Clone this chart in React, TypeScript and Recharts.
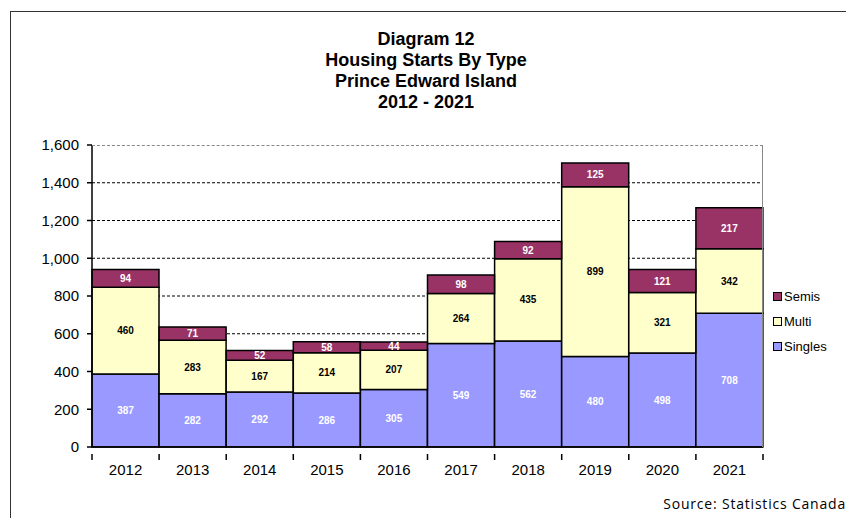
import React from 'react';
import { BarChart, Bar, XAxis, YAxis, CartesianGrid, LabelList } from 'recharts';

const years = ['2012', '2013', '2014', '2015', '2016', '2017', '2018', '2019', '2020', '2021'];
const singles = [387, 282, 292, 286, 305, 549, 562, 480, 498, 708];
const multi = [460, 283, 167, 214, 207, 264, 435, 899, 321, 342];
const semis = [94, 71, 52, 58, 44, 98, 92, 125, 121, 217];
const yTicks = [0, 200, 400, 600, 800, 1000, 1200, 1400, 1600];
const gridValues = [200, 400, 600, 800, 1000, 1200, 1400];
const titleLines = ['Diagram 12', 'Housing Starts By Type', 'Prince Edward Island', '2012 - 2021'];
const legendOrder = ['Semis', 'Multi', 'Singles'] as const;

const data = years.map((y, i) => ({ year: y, Singles: singles[i], Multi: multi[i], Semis: semis[i] }));

const COLORS = { Singles: '#9999FF', Multi: '#FFFFCC', Semis: '#993366' };
const FONT = '"Liberation Sans", Arial, sans-serif';
const W = 846;
const H = 518;
const PLOT_LEFT = 92;
const PLOT_TOP = 145;
const PLOT_RIGHT = 763;
const PLOT_BOTTOM = 447;
const BAND = (PLOT_RIGHT - PLOT_LEFT) / years.length;
const Y_MAX = yTicks[yTicks.length - 1];

const XTick = (props: any) => {
  const { x, y, payload, index } = props;
  const left = x - BAND / 2;
  const isLast = index === years.length - 1;
  return (
    <g>
      <line x1={left} x2={left} y1={y - 1} y2={y + 5} stroke="#000" strokeWidth={1.5} />
      {isLast && <line x1={x + BAND / 2} x2={x + BAND / 2} y1={y - 1} y2={y + 5} stroke="#000" strokeWidth={1.5} />}
      <text x={x} y={y + 20} textAnchor="middle" fontSize={15} fontFamily={FONT} fill="#000">
        {payload.value}
      </text>
    </g>
  );
};

const gridGen = (args: any) => {
  const { yAxis, offset } = args || {};
  const sc = yAxis && yAxis.scale;
  return gridValues.map((v) => {
    if (typeof sc === 'function') return sc(v);
    if (sc && typeof sc.map === 'function') return sc.map(v);
    return offset.top + offset.height * (1 - v / Y_MAX);
  });
};

export default function App() {
  return (
    <div style={{ position: 'absolute', left: 0, top: 0, width: W, height: H, background: '#fff', overflow: 'hidden' }}>
      <div style={{ position: 'absolute', left: 10, top: 11, width: W, height: H, borderLeft: '1px solid #333', borderTop: '1px solid #333' }} />
      <div
        style={{
          position: 'absolute',
          left: 0,
          top: 29,
          width: 852,
          textAlign: 'center',
          fontFamily: FONT,
          fontWeight: 'bold',
          fontSize: 18,
          lineHeight: '21px',
          color: '#000',
        }}
      >
        {titleLines.map((t) => (
          <div key={t}>{t}</div>
        ))}
      </div>
      <BarChart
        width={W}
        height={H}
        data={data}
        margin={{ top: PLOT_TOP, left: PLOT_LEFT - 62, right: W - PLOT_RIGHT, bottom: H - PLOT_BOTTOM - 30 }}
        barCategoryGap={0}
        style={{ position: 'absolute', left: 0, top: 0 }}
      >
        <CartesianGrid
          vertical={false}
          stroke="#000"
          strokeDasharray="3 2"
          horizontalCoordinatesGenerator={gridGen}
        />
        <XAxis
          dataKey="year"
          stroke="#000"
          strokeWidth={1.5}
          tickLine={false}
          tick={<XTick />}
          height={30}
          interval={0}
        />
        <YAxis
          width={62}
          domain={[0, Y_MAX]}
          ticks={yTicks}
          stroke="#000"
          strokeWidth={1.5}
          tickSize={5}
          tickMargin={8}
          tickFormatter={(v: number) => v.toLocaleString('en-US')}
          tick={{ fontSize: 15, fontFamily: FONT, fill: '#000' }}
        />
        <Bar dataKey="Singles" stackId="a" fill={COLORS.Singles} stroke="#000" strokeWidth={1.5} isAnimationActive={false}>
          <LabelList dataKey="Singles" position="center" fill="#fff" fontSize={10} fontWeight="bold" fontFamily={FONT} />
        </Bar>
        <Bar dataKey="Multi" stackId="a" fill={COLORS.Multi} stroke="#000" strokeWidth={1.5} isAnimationActive={false}>
          <LabelList dataKey="Multi" position="center" fill="#000" fontSize={10} fontWeight="bold" fontFamily={FONT} />
        </Bar>
        <Bar dataKey="Semis" stackId="a" fill={COLORS.Semis} stroke="#000" strokeWidth={1.5} isAnimationActive={false}>
          <LabelList dataKey="Semis" position="center" fill="#fff" fontSize={10} fontWeight="bold" fontFamily={FONT} />
        </Bar>
      </BarChart>
      <div
        style={{
          position: 'absolute',
          left: PLOT_LEFT,
          top: PLOT_TOP,
          width: PLOT_RIGHT - PLOT_LEFT,
          height: PLOT_BOTTOM - PLOT_TOP,
          borderTop: '1px dashed #888',
          borderRight: '1px solid #888',
          boxSizing: 'border-box',
          pointerEvents: 'none',
        }}
      />
      <div style={{ position: 'absolute', left: 773, top: 284, fontFamily: FONT, fontSize: 13, color: '#000' }}>
        {legendOrder.map((k) => (
          <div key={k} style={{ display: 'flex', alignItems: 'center', height: 25 }}>
            <span
              style={{
                display: 'inline-block',
                width: 7,
                height: 7,
                background: COLORS[k],
                border: '1px solid #000',
                marginRight: 2,
              }}
            />
            <span>{k}</span>
          </div>
        ))}
      </div>
      <div
        style={{
          position: 'absolute',
          right: 0,
          top: 494,
          fontFamily: '"Open Sans", "Noto Sans", sans-serif',
          fontSize: 14,
          letterSpacing: 0.8,
          color: '#000',
          whiteSpace: 'nowrap',
        }}
      >
        Source: Statistics Canada
      </div>
    </div>
  );
}
